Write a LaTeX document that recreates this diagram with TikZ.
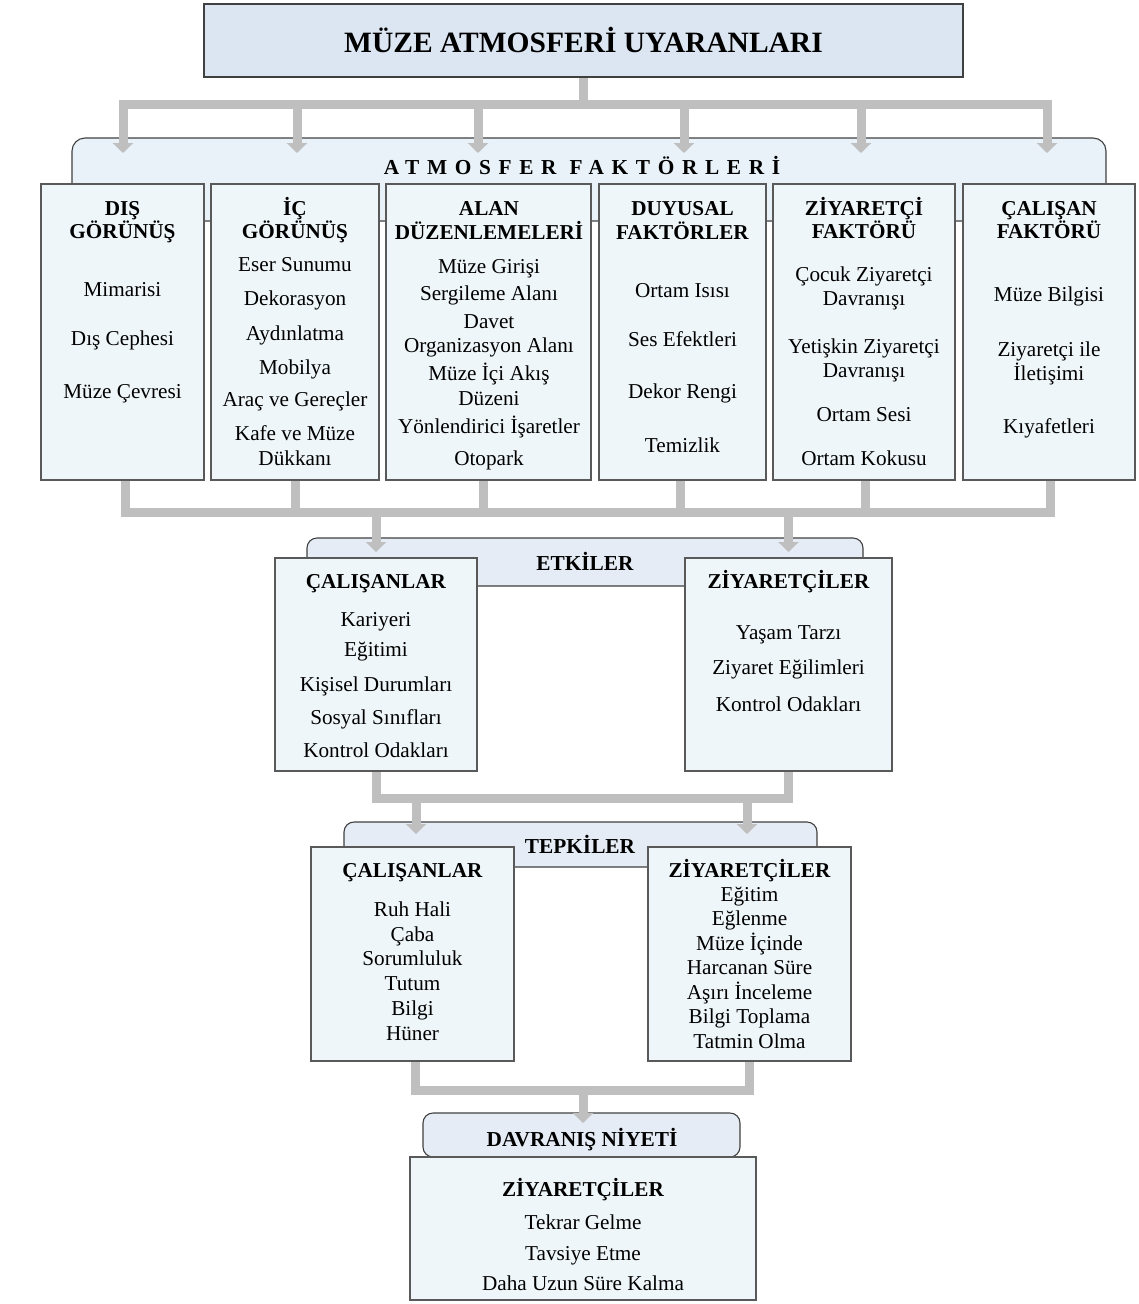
\documentclass[tikz,border=0pt]{standalone}
\usepackage{fontspec}
\setmainfont{Liberation Serif}
\newfontfamily\trackedfont[LetterSpace=36]{Liberation Serif}
\usetikzlibrary{arrows.meta}

\definecolor{titlefill}{HTML}{DCE6F2}
\definecolor{bandfill}{HTML}{E8F2F8}
\definecolor{boxfill}{HTML}{EFF6F9}
\definecolor{stagefill}{HTML}{E6ECF5}
\definecolor{edge}{HTML}{595959}
\definecolor{darkedge}{HTML}{404040}
\definecolor{pipe}{HTML}{BFBFBF}

\pgfdeclarelayer{back}
\pgfdeclarelayer{mid}
\pgfsetlayers{back,mid,main}

\newcommand\hd[1]{\textbf{#1}}
% body text with a fixed line pitch
\newcommand\bodyfont{\fontsize{21.2}{24}\selectfont\setlength{\lineskiplimit}{-20pt}}
\newcommand\listfont{\fontsize{21.2}{24.5}\selectfont\setlength{\lineskiplimit}{-20pt}}

\tikzset{
  every node/.style={inner sep=0pt, outer sep=0pt},
  titlebox/.style={rectangle, draw=darkedge, line width=1.2pt, fill=titlefill},
  band/.style={rectangle, rounded corners=13pt, draw=darkedge, line width=1.1pt, fill=bandfill},
  stageband/.style={rectangle, rounded corners=10pt, draw=darkedge, line width=1.1pt, fill=stagefill},
  panel/.style={rectangle, draw=edge, line width=1.1pt, fill=boxfill},
  % multi-line text: the base anchor sits on the last line
  txt/.style={anchor=base, align=center, font=\bodyfont},
  label/.style={anchor=base, font=\fontsize{21.3}{25}\selectfont\bfseries},
  conn/.style={draw=pipe, line width=9pt},
  flow/.style={conn, -{Triangle[width=20pt,length=10pt]}},
  flowboth/.style={conn, {Triangle[width=20pt,length=10pt]}-{Triangle[width=20pt,length=10pt]}},
}

\begin{document}
\begin{tikzpicture}[x=1pt,y=-1pt]
\useasboundingbox (0,0) rectangle (1138,1304);

% ---------- title ----------
\node[titlebox, minimum width=759pt, minimum height=73pt] (title) at (583.5,40.5) {};
\node[anchor=base, font=\fontsize{29.5}{34}\selectfont\bfseries] (title-t) at (583.5,52) {MÜZE ATMOSFERİ UYARANLARI};

% ---------- atmosphere factors ----------
\begin{pgfonlayer}{back}
\node[band, minimum width=1034pt, minimum height=83pt] (atm) at (589,179.5) {};
\end{pgfonlayer}
\node[anchor=base, font=\fontsize{21.3}{25}\selectfont\trackedfont\bfseries] (atm-t) at (582,174) {ATMOSFER FAKTÖRLERİ};

\node[panel, minimum width=163pt, minimum height=296pt] (dis)  at (122.5,332) {};
\node[panel, minimum width=168pt, minimum height=296pt] (ic)   at (295,332) {};
\node[panel, minimum width=205pt, minimum height=296pt] (alan) at (488.5,332) {};
\node[panel, minimum width=167pt, minimum height=296pt] (duy)  at (682.5,332) {};
\node[panel, minimum width=182pt, minimum height=296pt] (ziy)  at (864,332) {};
\node[panel, minimum width=172pt, minimum height=296pt] (cal)  at (1049,332) {};

\node[txt] (dis-t) at (122.5,398) {\hd{DIŞ}\\[-1pt]\hd{GÖRÜNÜŞ}\\[34pt]Mimarisi\\[25pt]Dış Cephesi\\[29pt]Müze Çevresi};
\node[txt] (ic-t) at (295,465) {\hd{İÇ}\\[-1pt]\hd{GÖRÜNÜŞ}\\[9pt]Eser Sunumu\\[10pt]Dekorasyon\\[11pt]Aydınlatma\\[10pt]Mobilya\\[8pt]Araç ve Gereçler\\[10pt]Kafe ve Müze\\[1pt]Dükkanı};
\node[txt] (alan-t) at (489,465) {\hd{ALAN}\\\hd{DÜZENLEMELERİ}\\[10pt]Müze Girişi\\[3pt]Sergileme Alanı\\[4pt]Davet\\Organizasyon Alanı\\[4pt]Müze İçi Akış\\[1pt]Düzeni\\[4pt]Yönlendirici İşaretler\\[8pt]Otopark};
\node[txt] (duy-t) at (682.5,452) {\hd{DUYUSAL}\\\hd{FAKTÖRLER}\\[34pt]Ortam Isısı\\[25pt]Ses Efektleri\\[28pt]Dekor Rengi\\[30pt]Temizlik};
\node[txt] (ziy-t) at (864,465) {\hd{ZİYARETÇİ}\\[-1pt]\hd{FAKTÖRÜ}\\[19pt]Çocuk Ziyaretçi\\Davranışı\\[24pt]Yetişkin Ziyaretçi\\Davranışı\\[20pt]Ortam Sesi\\[20pt]Ortam Kokusu};
\node[txt] (cal-t) at (1049,433) {\hd{ÇALIŞAN}\\[-1pt]\hd{FAKTÖRÜ}\\[39pt]Müze Bilgisi\\[31pt]Ziyaretçi ile\\İletişimi\\[29pt]Kıyafetleri};

% ---------- effects ----------
\begin{pgfonlayer}{back}
\node[stageband, minimum width=556pt, minimum height=48pt] (etk) at (585,562) {};
\end{pgfonlayer}
\node[label] (etk-t) at (585,570) {ETKİLER};
\node[panel, minimum width=202pt, minimum height=213pt] (e1) at (376,664.5) {};
\node[panel, minimum width=207pt, minimum height=213pt] (e2) at (788.5,664.5) {};
\node[txt] (e1-t) at (376,757) {\hd{ÇALIŞANLAR}\\[14pt]Kariyeri\\[6pt]Eğitimi\\[11pt]Kişisel Durumları\\[9pt]Sosyal Sınıfları\\[9pt]Kontrol Odakları};
\node[txt] (e2-t) at (788.5,711) {\hd{ZİYARETÇİLER}\\[27pt]Yaşam Tarzı\\[11pt]Ziyaret Eğilimleri\\[13pt]Kontrol Odakları};

% ---------- responses ----------
\begin{pgfonlayer}{back}
\node[stageband, minimum width=473pt, minimum height=45pt] (tep) at (580.5,844.5) {};
\end{pgfonlayer}
\node[label] (tep-t) at (580,853) {TEPKİLER};
\node[panel, minimum width=203pt, minimum height=214pt] (t1) at (412.5,954) {};
\node[panel, minimum width=203pt, minimum height=214pt] (t2) at (749.5,954) {};
\node[txt] (t1-t) at (412.5,1040) {\hd{ÇALIŞANLAR}\\[15pt]Ruh Hali\\[1pt]Çaba\\Sorumluluk\\[1pt]Tutum\\[1pt]Bilgi\\[1pt]Hüner};
\node[txt, font=\listfont] (t2-t) at (749.5,1048) {\hd{ZİYARETÇİLER}\\[-0.5pt]Eğitim\\Eğlenme\\Müze İçinde\\Harcanan Süre\\Aşırı İnceleme\\Bilgi Toplama\\Tatmin Olma};

% ---------- behavioural intention ----------
\begin{pgfonlayer}{back}
\node[stageband, minimum width=317pt, minimum height=44pt] (niy) at (581.5,1135) {};
\end{pgfonlayer}
\node[label] (niy-t) at (582,1146) {DAVRANIŞ NİYETİ};
\node[panel, minimum width=346pt, minimum height=143pt] (d) at (583,1228.5) {};
\node[txt] (d-t) at (583,1290) {\hd{ZİYARETÇİLER}\\[9pt]Tekrar Gelme\\[7pt]Tavsiye Etme\\[6pt]Daha Uzun Süre Kalma};

% ---------- connector levels ----------
\coordinate (bus)  at (0,104);
\coordinate (tip)  at (0,153);
\coordinate (bar)  at (0,512);
\coordinate (tip2) at (0,552);
\coordinate (bar2) at (0,798);
\coordinate (tip3) at (0,834);
\coordinate (bar3) at (0,1090);
\coordinate (tip4) at (0,1123);

\coordinate (disIn)  at ([xshift=0.5pt]dis.north);
\coordinate (icIn)   at ([xshift=2pt]ic.north);
\coordinate (alanIn) at ([xshift=-10.5pt]alan.north);
\coordinate (duyIn)  at ([xshift=1.5pt]duy.north);
\coordinate (ziyIn)  at ([xshift=-3pt]ziy.north);
\coordinate (calIn)  at ([xshift=-2pt]cal.north);

\coordinate (disOut)  at ([xshift=3pt]dis.south);
\coordinate (icOut)   at (ic.south);
\coordinate (alanOut) at ([xshift=-5.5pt]alan.south);
\coordinate (duyOut)  at ([xshift=-2.5pt]duy.south);
\coordinate (ziyOut)  at ([xshift=1pt]ziy.south);
\coordinate (calOut)  at ([xshift=1pt]cal.south);

\coordinate (t1In) at ([xshift=3.5pt]t1.north);
\coordinate (t2In) at ([xshift=-2.5pt]t2.north);
\coordinate (t1Out) at ([xshift=3pt]t1.south);

\begin{pgfonlayer}{mid}
% title to the six factor groups
\draw[conn] (title.south) -- (title.south |- bus);
\draw[flowboth] (disIn |- tip) -- (disIn |- bus) -- (calIn |- bus) -- (calIn |- tip);
\draw[flow] (icIn |- bus) -- (icIn |- tip);
\draw[flow] (alanIn |- bus) -- (alanIn |- tip);
\draw[flow] (duyIn |- bus) -- (duyIn |- tip);
\draw[flow] (ziyIn |- bus) -- (ziyIn |- tip);

% factor groups to effects
\draw[conn] (disOut) -- (disOut |- bar) -- (calOut |- bar) -- (calOut);
\draw[conn] (icOut) -- (icOut |- bar);
\draw[conn] (alanOut) -- (alanOut |- bar);
\draw[conn] (duyOut) -- (duyOut |- bar);
\draw[conn] (ziyOut) -- (ziyOut |- bar);
\draw[flow] (e1.north |- bar) -- (e1.north |- tip2);
\draw[flow] (e2.north |- bar) -- (e2.north |- tip2);

% effects to responses
\draw[conn] (e1.south) -- (e1.south |- bar2) -- (e2.south |- bar2) -- (e2.south);
\draw[flow] (t1In |- bar2) -- (t1In |- tip3);
\draw[flow] (t2In |- bar2) -- (t2In |- tip3);

% responses to behavioural intention
\draw[conn] (t1Out) -- (t1Out |- bar3) -- (t2.south |- bar3) -- (t2.south);
\draw[flow] (d.north |- bar3) -- (d.north |- tip4);
\end{pgfonlayer}
\end{tikzpicture}
\end{document}
